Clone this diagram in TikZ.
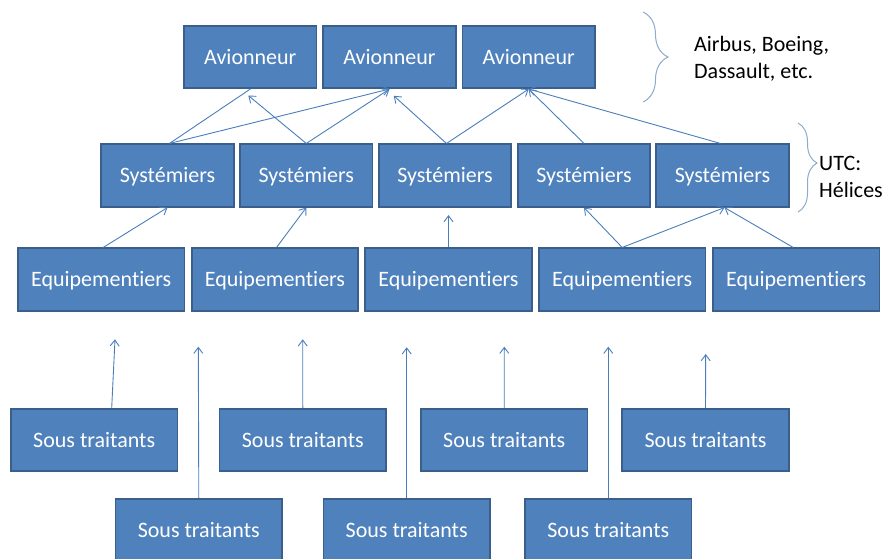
\documentclass[tikz,border=0pt]{standalone}
\usepackage{fontspec}
\setmainfont{Carlito}[Ligatures=NoCommon]
\usetikzlibrary{arrows.meta,decorations.pathreplacing}
\definecolor{boxfill}{HTML}{4F81BD}
\definecolor{boxline}{HTML}{3A5F8B}
\definecolor{conn}{HTML}{4A7EBB}
\definecolor{brcol}{HTML}{8EAACB}
\begin{document}
\begin{tikzpicture}[x=1pt,y=-1pt,
  box/.style={draw=boxline, line width=1.6pt, fill=boxfill, text=white,
    font=\fontsize{22}{26}\selectfont, minimum height=62.5pt, inner sep=0pt,
    text height=16pt, text depth=2pt},
  narrow/.style={box, minimum width=132.5pt},
  wide/.style={box, minimum width=166.5pt},
  link/.style={draw=conn, line width=0.9pt},
  arr/.style={link, -{Straight Barb[length=6pt,width=9pt]}},
  lbl/.style={anchor=base west, font=\fontsize{22}{26}\selectfont, text=black, inner sep=0pt},
  brc/.style={draw=brcol, line width=1pt, decorate}
]
\useasboundingbox (0,0) rectangle (884,558);

% Avionneurs
\node[narrow] (a1) at (250.3,57) {Avionneur};
\node[narrow] (a2) at (389.5,57) {Avionneur};
\node[narrow] (a3) at (528.7,57) {Avionneur};

% Systemiers
\node[narrow] (y1) at (167.5,175.5) {Systémiers};
\node[narrow] (y2) at (306.3,175.5) {Systémiers};
\node[narrow] (y3) at (445,175.5) {Systémiers};
\node[narrow] (y4) at (584,175.5) {Systémiers};
\node[narrow] (y5) at (722.5,175.5) {Systémiers};

% Equipementiers
\node[wide] (e1) at (101.2,279.5) {Equipementiers};
\node[wide] (e2) at (275,279.5) {Equipementiers};
\node[wide] (e3) at (448.5,279.5) {Equipementiers};
\node[wide] (e4) at (622.2,279.5) {Equipementiers};
\node[wide] (e5) at (796.2,279.5) {Equipementiers};

% Sous traitants
\node[wide] (s1) at (94.2,440) {Sous traitants};
\node[wide] (s2) at (302.8,440) {Sous traitants};
\node[wide] (s3) at (504.2,440) {Sous traitants};
\node[wide] (s4) at (705.5,440) {Sous traitants};
\node[wide] (s5) at (198.8,530) {Sous traitants};
\node[wide] (s6) at (406.7,530) {Sous traitants};
\node[wide] (s7) at (608.3,530) {Sous traitants};

% free ends
\coordinate (h1) at (248.3,95.5);
\coordinate (h2) at (393.8,95.8);
\coordinate (h3) at (448.5,215);
\coordinate (t1) at (115,339.3);
\coordinate (t5) at (198.3,346.7);
\coordinate (t2) at (302.7,339.3);
\coordinate (t6) at (406.7,347.3);
\coordinate (t3) at (504.3,346.7);
\coordinate (t7) at (608.3,346.7);
\coordinate (t4) at (705.7,354);

% Systemiers -> Avionneurs
\draw[link] ([xshift=2pt]y1.north) -- (a1.south);
\draw[arr] ([xshift=2pt]y1.north) -- (a2.south);
\draw[arr] (y2.north) -- (h1);
\draw[arr] (y2.north) -- (a2.south);
\draw[arr] ([xshift=1.5pt]y3.north) -- (h2);
\draw[arr] ([xshift=1.5pt]y3.north) -- (a3.south);
\draw[arr] (y4.north) -- (a3.south);
\draw[arr] ([xshift=-2pt]y5.north) -- (a3.south);

% Equipementiers -> Systemiers
\draw[arr] ([xshift=2pt]e1.north) -- (y1.south);
\draw[arr] ([xshift=1.5pt]e2.north) -- (y2.south);
\draw[arr] (e3.north) -- (h3);
\draw[arr] (e4.north) -- (y4.south);
\draw[arr] (e4.north) -- ([xshift=2pt]y5.south);
\draw[arr] ([xshift=-3pt]e5.north) -- ([xshift=2pt]y5.south);

% Sous traitants -> (free)
\draw[arr] ([xshift=17.5pt]s1.north) -- (t1);
\draw[arr] (s5.north) -- (t5);
\draw[arr] (s2.north) -- (t2);
\draw[arr] (s6.north) -- (t6);
\draw[arr] (s3.north) -- (t3);
\draw[arr] (s7.north) -- (t7);
\draw[arr] (s4.north) -- (t4);

% braces
\coordinate (b1s) at (643,12);
\coordinate (b1e) at (643,102);
\coordinate (b2s) at (798,123);
\coordinate (b2e) at (798,212);
\draw[brc, decoration={brace, amplitude=25pt}] (b1s) -- (b1e);
\draw[brc, decoration={brace, amplitude=19pt, aspect=0.45}] (b2s) -- (b2e);

% labels
\node[lbl] (l1) at (694,51.7) {Airbus, Boeing,};
\node[lbl] (l2) at (694,78.4) {Dassault, etc.};
\node[lbl] (l3) at (819,170.7) {UTC:};
\node[lbl] (l4) at (819,197.4) {Hélices};
\end{tikzpicture}
\end{document}
